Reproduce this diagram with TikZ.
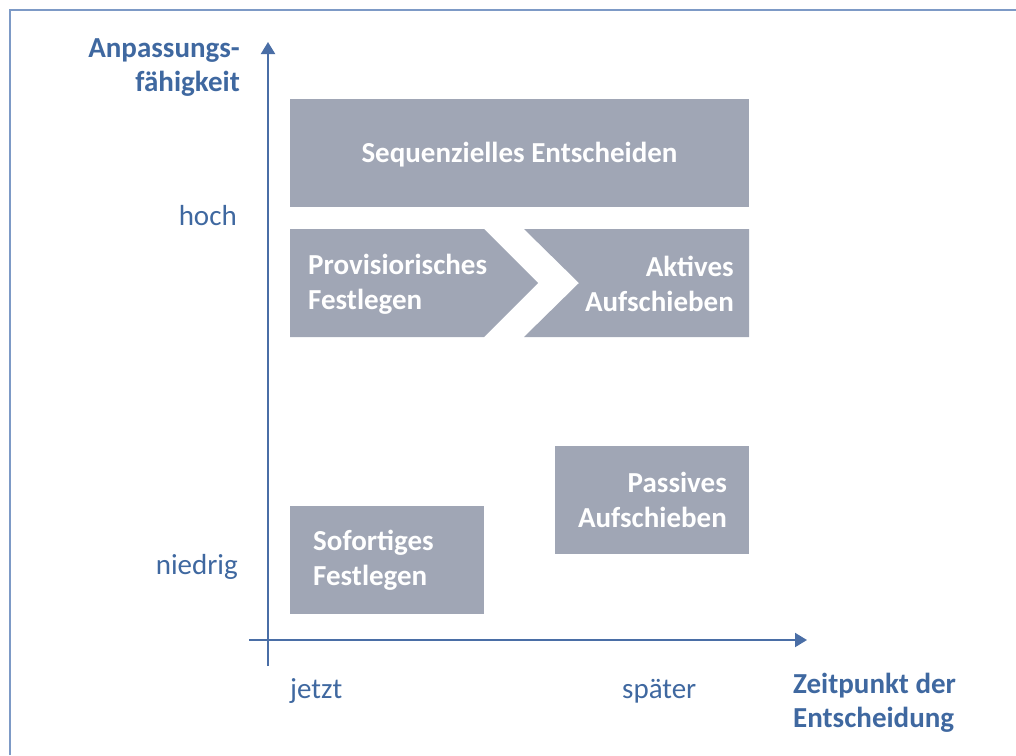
\documentclass[tikz,border=0pt]{standalone}
\usepackage{fontspec}
\setmainfont{Carlito}
\usetikzlibrary{arrows.meta}
\definecolor{boxgray}{HTML}{A0A6B5}
\definecolor{txtblue}{HTML}{3F68A0}
\definecolor{axisblue}{HTML}{4A6EA6}
\definecolor{framecol}{HTML}{7D9AC6}
\tikzset{
  box/.style={fill=boxgray, draw=none, inner sep=0pt},
  boxtext/.style={text=white, font=\fontsize{29}{35}\selectfont\bfseries, inner sep=0pt},
  axlabel/.style={text=txtblue, font=\fontsize{29}{35}\selectfont, inner sep=0pt},
  axtitle/.style={text=txtblue, font=\fontsize{29}{34}\selectfont\bfseries, inner sep=0pt},
  axisline/.style={draw=axisblue, line width=2pt, -{Triangle[width=14pt,length=12pt]}}
}
\begin{document}
\begin{tikzpicture}[x=1pt,y=-1pt]
\useasboundingbox (0,0) rectangle (1016,755);
% frame
\coordinate (fbl) at (10,755);
\coordinate (ftl) at (10,10);
\coordinate (ftr) at (1016,10);
\draw[framecol, line width=1.5pt] (fbl) -- (ftl) -- (ftr);
% axes
\coordinate (ybot) at (268,666);
\coordinate (ytop) at (268,42);
\coordinate (xl) at (249,640);
\coordinate (xr) at (807,640);
\draw[axisline] (ybot) -- (ytop);
\draw[axisline] (xl) -- (xr);
% boxes
\node[box, minimum width=459pt, minimum height=108pt] (seq) at (519.5,153) {};
\node[boxtext] (seqt) at ([yshift=-1.5pt]seq.center) {Sequenzielles Entscheiden};
\coordinate (p1) at (290,229);
\coordinate (p2) at (484,229);
\coordinate (p3) at (538,283);
\coordinate (p4) at (484,337);
\coordinate (p5) at (290,337);
\fill[boxgray] (p1) -- (p2) -- (p3) -- (p4) -- (p5) -- cycle;
\coordinate (a1) at (524,229);
\coordinate (a2) at (749,229);
\coordinate (a3) at (749,337);
\coordinate (a4) at (524,337);
\coordinate (a5) at (579,283);
\fill[boxgray] (a1) -- (a2) -- (a3) -- (a4) -- (a5) -- cycle;
\node[boxtext, anchor=west, align=left] (provt) at (308,284) {Provisiorisches\\Festlegen};
\node[boxtext, anchor=east, align=right] (aktt) at (734,284) {Aktives\\Aufschieben};
\node[box, minimum width=194pt, minimum height=108pt] (pas) at (652,500) {};
\node[boxtext, anchor=east, align=right] (past) at (727,500) {Passives\\Aufschieben};
\node[box, minimum width=194pt, minimum height=108pt] (sof) at (387,560) {};
\node[boxtext, anchor=west, align=left] (soft) at (313,560.5) {Sofortiges\\Festlegen};
% labels
\node[axtitle, anchor=east, align=right] (ytitle) at (240,68) {Anpassungs-\\fähigkeit};
\node[axlabel, anchor=east] (hoch) at (237,216) {hoch};
\node[axlabel, anchor=east] (niedrig) at (238,567) {niedrig};
\node[axlabel, anchor=west] (jetzt) at (290,691) {jetzt};
\node[axlabel, anchor=west] (spaeter) at (622,691) {später};
\node[axtitle, anchor=west, align=left] (xtitle) at (793,703) {Zeitpunkt der\\Entscheidung};
\end{tikzpicture}
\end{document}
